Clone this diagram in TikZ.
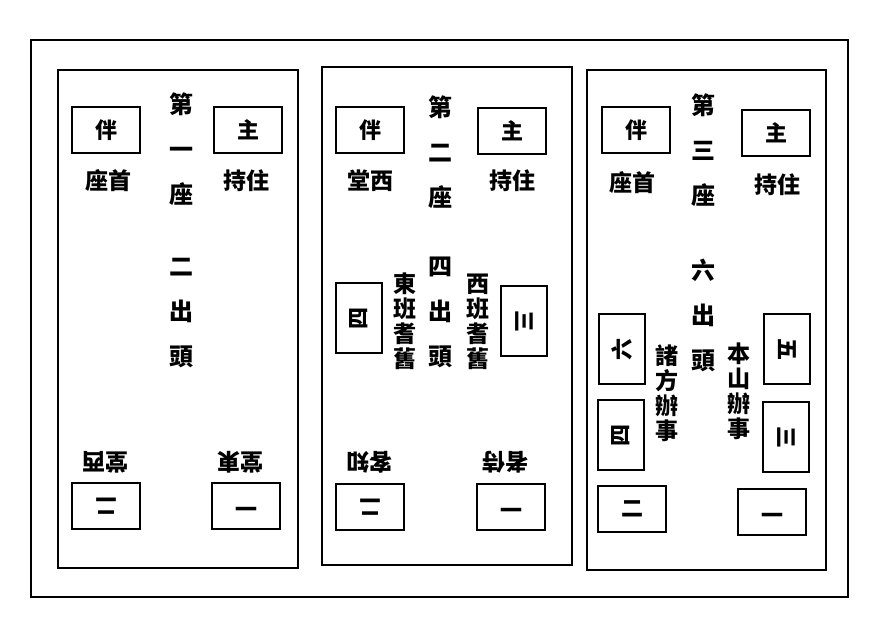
\documentclass[tikz,border=0pt]{standalone}
\usepackage{fontspec}
\usepackage{tikz}
\newfontfamily\cjk{Noto Sans CJK TC}

\tikzset{
  seat/.style={draw=black, line width=1.3pt, minimum width=68pt, minimum height=46pt,
    inner sep=0pt, font=\cjk\bfseries\fontsize{22}{22}\selectfont},
  sideseat/.style={seat, minimum width=70pt, minimum height=46pt},
  role/.style={inner sep=0pt, font=\cjk\bfseries\fontsize{23}{23}\selectfont},
  column/.style={align=center, inner sep=0pt, font=\cjk\bfseries\fontsize{24}{45}\selectfont},
  office/.style={align=center, inner sep=0pt, font=\cjk\bfseries\fontsize{23}{25}\selectfont},
  panel/.style={draw=black, line width=1.3pt}
}

\begin{document}
\begin{tikzpicture}[x=1pt,y=-1pt]
\useasboundingbox[fill=white] (0,0) rectangle (874,625);

% frames
\draw[panel] (31,40) rectangle (848,597);
\draw[panel] (58,70) rectangle (298,568);
\draw[panel] (322,67) rectangle (572,565);
\draw[panel] (587,70) rectangle (826,570);

% first seat
\node[seat] (ban1) at (106,130) {伴};
\node[seat] (zhu1) at (248,130) {主};
\node[role] (shouzuo1) at (108,181) {座首};
\node[role] (zhuchi1) at (246,181) {持住};
\node[column] (title1) at (181,149) {第\\一\\座};
\node[column] (count1) at (181,313) {二\\出\\頭};
\node[role, rotate=180] (xitang1) at (105,462) {堂西};
\node[role, rotate=180] (dongtang1) at (240,462) {堂東};
\node[seat, rotate=180] (two1) at (106,506) {二};
\node[seat, rotate=180] (one1) at (246,506) {一};

% second seat
\node[seat] (ban2) at (370,130) {伴};
\node[seat] (zhu2) at (512,131) {主};
\node[role] (xitang2) at (370,181) {堂西};
\node[role] (zhuchi2) at (512,181) {持住};
\node[column] (title2) at (440,152) {第\\二\\座};
\node[column] (count2) at (440,312) {四\\出\\頭};
\node[sideseat, rotate=90] (four2) at (359,318) {四};
\node[sideseat, rotate=-90] (three2) at (524,321) {三};
\node[office] (dongban2) at (405,321) {東\\班\\耆\\舊};
\node[office] (xiban2) at (478,322) {西\\班\\耆\\舊};
\node[role, rotate=180] (zhike2) at (369,462) {客知};
\node[role, rotate=180] (shizhe2) at (505,462) {者侍};
\node[seat, rotate=180] (two2) at (370,507) {二};
\node[seat, rotate=180] (one2) at (511,507) {一};

% third seat
\node[seat] (ban3) at (636,130) {伴};
\node[seat] (zhu3) at (776,133) {主};
\node[role] (shouzuo3) at (632,183) {座首};
\node[role] (zhuchi3) at (777,185) {持住};
\node[column] (title3) at (703,150) {第\\三\\座};
\node[column] (count3) at (703,315) {六\\出\\頭};
\node[sideseat, rotate=90] (six3) at (622,349) {六};
\node[sideseat, rotate=90] (four3) at (621,435) {四};
\node[sideseat, rotate=-90] (five3) at (787,349) {五};
\node[sideseat, rotate=-90] (three3) at (786,437) {三};
\node[office] (zhufang3) at (667,393) {諸\\方\\辦\\事};
\node[office] (benshan3) at (739,391) {本\\山\\辦\\事};
\node[seat] (two3) at (632,509) {二};
\node[seat, rotate=180] (one3) at (772,512) {一};
\end{tikzpicture}
\end{document}
